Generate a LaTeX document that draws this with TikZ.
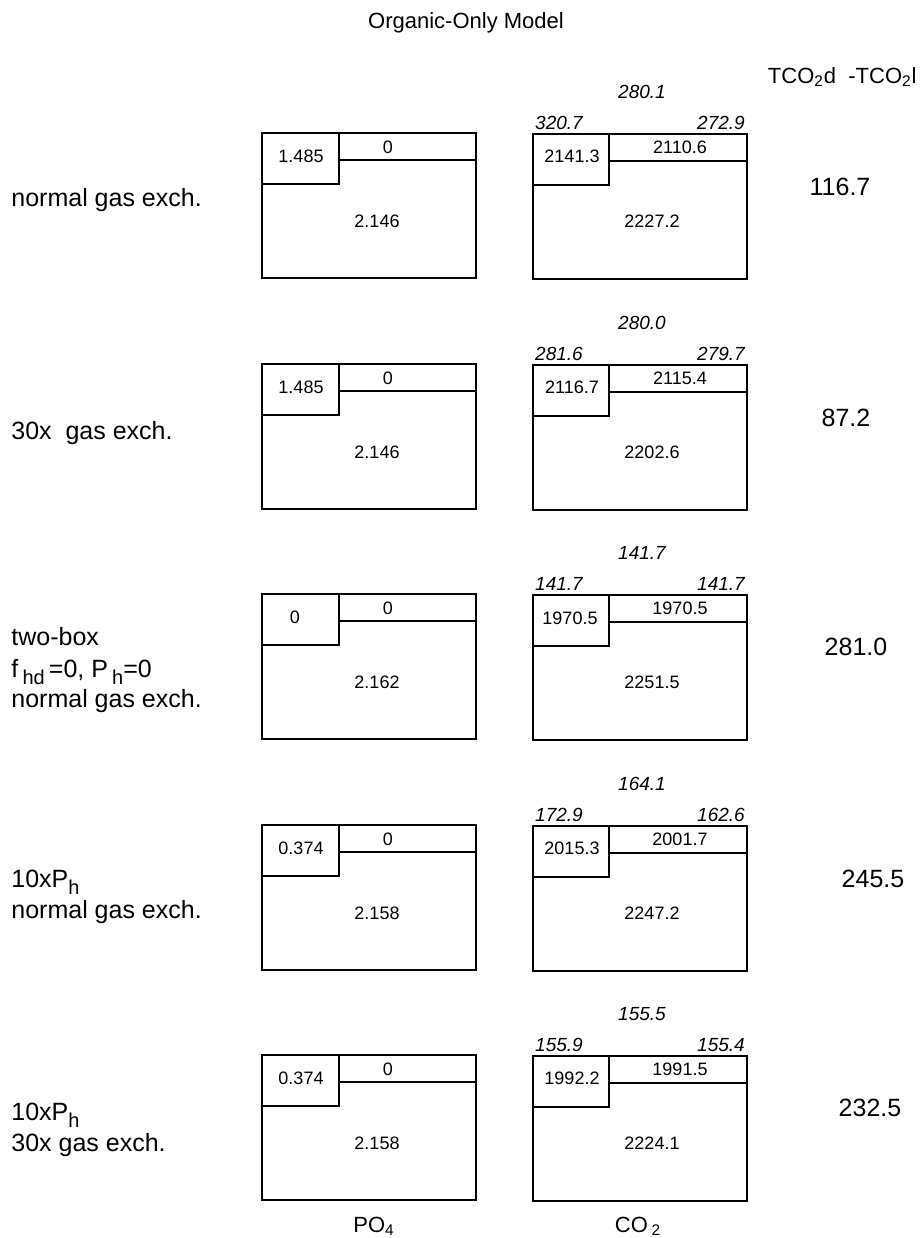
\documentclass[tikz,border=0pt]{standalone}
\usepackage{fontspec}
\setmainfont{Liberation Sans}
\newcommand{\lsub}[1]{\raisebox{-3.5pt}{\fontsize{10}{10}\selectfont #1}}
\tikzstyle{box}=[draw=black,line width=1pt]
\tikzstyle{num}=[inner sep=0pt,font=\fontsize{9}{10}\selectfont]
\tikzstyle{flux}=[inner sep=0pt,font=\fontsize{9.5}{11}\selectfont\itshape]
\tikzstyle{lbl}=[inner sep=0pt,anchor=base west,font=\fontsize{12.5}{15}\selectfont]
\tikzstyle{dtco}=[inner sep=0pt,font=\fontsize{12.5}{14}\selectfont]
\tikzstyle{head}=[inner sep=0pt,anchor=base,font=\fontsize{11}{13}\selectfont]

\begin{document}
\begin{tikzpicture}[x=0.5pt,y=-0.5pt]
\useasboundingbox (0,0) rectangle (922,1238);
\node[head] (title) at (466,28) {Organic-Only Model};
\node[head,anchor=base east] (dhead) at (917,83) {TCO\textsubscript{2}d\ \ -TCO\textsubscript{2}l};

\begin{scope}[shift={(0,133)}]
  \draw[box] (262,0) rectangle (476,145) (262,51) -| (339,0) (339,27) -- (476,27);
  \draw[box] (533,1) rectangle (747,146) (533,52) -| (609,1) (609,28) -- (747,28);
  \node[num] (p1l) at (301,23) {1.485};
  \node[num] (p1t) at (388,14) {0};
  \node[num] (p1d) at (377,88) {2.146};
  \node[flux] (f1m) at (642,-41) {280.1};
  \node[flux] (f1l) at (559,-10) {320.7};
  \node[flux] (f1r) at (721,-10) {272.9};
  \node[num] (c1l) at (572,23) {2141.3};
  \node[num] (c1t) at (680,14) {2110.6};
  \node[num] (c1d) at (652,88) {2227.2};
  \node[lbl] (l1a) at (11,73) {normal gas exch.};
  \node[dtco] (d1) at (840,54) {116.7};
\end{scope}

\begin{scope}[shift={(0,364)}]
  \draw[box] (262,0) rectangle (476,145) (262,51) -| (339,0) (339,27) -- (476,27);
  \draw[box] (533,1) rectangle (747,146) (533,52) -| (609,1) (609,28) -- (747,28);
  \node[num] (p2l) at (301,23) {1.485};
  \node[num] (p2t) at (388,14) {0};
  \node[num] (p2d) at (377,88) {2.146};
  \node[flux] (f2m) at (642,-41) {280.0};
  \node[flux] (f2l) at (559,-10) {281.6};
  \node[flux] (f2r) at (721,-10) {279.7};
  \node[num] (c2l) at (572,23) {2116.7};
  \node[num] (c2t) at (680,14) {2115.4};
  \node[num] (c2d) at (652,88) {2202.6};
  \node[lbl] (l2a) at (11,75) {30x\ \ gas exch.};
  \node[dtco] (d2) at (846,54) {87.2};
\end{scope}

\begin{scope}[shift={(0,594)}]
  \draw[box] (262,0) rectangle (476,145) (262,51) -| (339,0) (339,27) -- (476,27);
  \draw[box] (533,1) rectangle (747,146) (533,52) -| (609,1) (609,28) -- (747,28);
  \node[num] (p3l) at (295,23) {0};
  \node[num] (p3t) at (388,14) {0};
  \node[num] (p3d) at (377,88) {2.162};
  \node[flux] (f3m) at (642,-41) {141.7};
  \node[flux] (f3l) at (559,-10) {141.7};
  \node[flux] (f3r) at (721,-10) {141.7};
  \node[num] (c3l) at (570,24) {1970.5};
  \node[num] (c3t) at (680,14) {1970.5};
  \node[num] (c3d) at (652,88) {2251.5};
  \node[lbl] (l3a) at (11,51) {two-box};
  \node[lbl] (l3b) at (11,83) {f\,\lsub{hd}\,=0, P\,\lsub{h}=0};
  \node[lbl] (l3c) at (11,113) {normal gas exch.};
  \node[dtco] (d3) at (856,53) {281.0};
\end{scope}

\begin{scope}[shift={(0,825)}]
  \draw[box] (262,0) rectangle (476,145) (262,51) -| (339,0) (339,27) -- (476,27);
  \draw[box] (533,1) rectangle (747,146) (533,52) -| (609,1) (609,28) -- (747,28);
  \node[num] (p4l) at (301,23) {0.374};
  \node[num] (p4t) at (388,14) {0};
  \node[num] (p4d) at (377,88) {2.158};
  \node[flux] (f4m) at (642,-41) {164.1};
  \node[flux] (f4l) at (559,-10) {172.9};
  \node[flux] (f4r) at (721,-10) {162.6};
  \node[num] (c4l) at (572,23) {2015.3};
  \node[num] (c4t) at (680,14) {2001.7};
  \node[num] (c4d) at (652,88) {2247.2};
  \node[lbl] (l4a) at (11,62) {10xP\lsub{h}};
  \node[lbl] (l4b) at (11,93) {normal gas exch.};
  \node[dtco] (d4) at (873,54) {245.5};
\end{scope}

\begin{scope}[shift={(0,1055)}]
  \draw[box] (262,0) rectangle (476,145) (262,51) -| (339,0) (339,27) -- (476,27);
  \draw[box] (533,1) rectangle (747,146) (533,52) -| (609,1) (609,28) -- (747,28);
  \node[num] (p5l) at (301,23) {0.374};
  \node[num] (p5t) at (388,14) {0};
  \node[num] (p5d) at (377,88) {2.158};
  \node[flux] (f5m) at (642,-41) {155.5};
  \node[flux] (f5l) at (559,-10) {155.9};
  \node[flux] (f5r) at (721,-10) {155.4};
  \node[num] (c5l) at (572,23) {1992.2};
  \node[num] (c5t) at (680,14) {1991.5};
  \node[num] (c5d) at (652,88) {2224.1};
  \node[lbl] (l5a) at (11,65) {10xP\lsub{h}};
  \node[lbl] (l5b) at (11,96) {30x gas exch.};
  \node[dtco] (d5) at (870,53) {232.5};
\end{scope}

\node[head] (po) at (374,1232) {PO\textsubscript{4}};
\node[head] (co) at (638,1232) {CO\,\textsubscript{2}};
\end{tikzpicture}
\end{document}
